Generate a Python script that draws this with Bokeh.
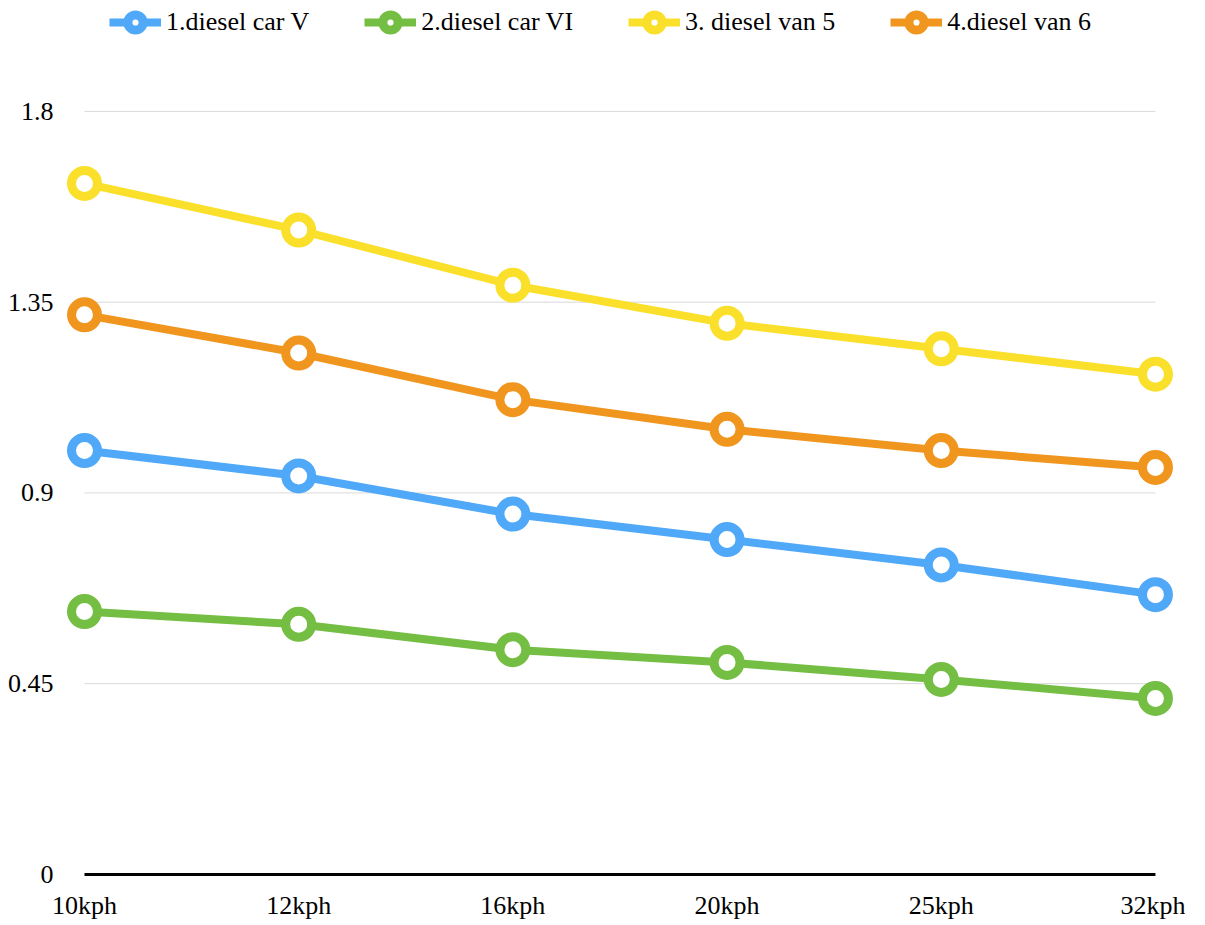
from bokeh.plotting import figure
from bokeh.models import Range1d, FixedTicker, Legend, LegendItem
from bokeh.embed import file_html
from bokeh.resources import INLINE

categories = ["10kph", "12kph", "16kph", "20kph", "25kph", "32kph"]
series_names = ["1.diesel car V", "2.diesel car VI", "3. diesel van 5", "4.diesel van 6"]
car_v = [1.00, 0.94, 0.85, 0.79, 0.73, 0.66]
car_vi = [0.62, 0.59, 0.53, 0.50, 0.46, 0.415]
van_5 = [1.63, 1.52, 1.39, 1.30, 1.24, 1.18]
van_6 = [1.32, 1.23, 1.12, 1.05, 1.00, 0.96]
colors = ["#50A8F8", "#74BE43", "#FAE02B", "#F0961E"]
y_ticks = [0, 0.45, 0.9, 1.35, 1.8]
y_tick_labels = ["0", "0.45", "0.9", "1.35", "1.8"]

FONT = "Liberation Serif"
FS = "26px"

x = list(range(len(categories)))
series = [car_v, car_vi, van_5, van_6]

PXU = 423.9
FH = 882
Y_END = 2.038 + 10 / PXU
Y_START = Y_END - FH / PXU

p = figure(
    frame_width=1114, frame_height=FH,
    x_range=Range1d(-0.098, 5.103), y_range=Range1d(Y_START, Y_END),
    output_backend="svg", toolbar_location=None,
    min_border_left=63, min_border_right=8, min_border_top=0, min_border_bottom=0,
)
p.outline_line_color = None
p.xgrid.visible = False
p.ygrid.visible = False

# axes
p.xaxis.ticker = FixedTicker(ticks=x)
p.xaxis.major_label_overrides = {i: c for i, c in zip(x, categories)}
p.yaxis.ticker = FixedTicker(ticks=y_ticks)
p.yaxis.major_label_overrides = {t: l for t, l in zip(y_ticks, y_tick_labels)}
for ax in (p.xaxis, p.yaxis):
    ax.axis_line_color = None
    ax.major_tick_line_color = None
    ax.minor_tick_line_color = None
    ax.major_label_text_font = FONT
    ax.major_label_text_font_size = FS
    ax.major_label_text_color = "#000000"
p.xaxis.major_label_standoff = 2
p.yaxis.major_label_standoff = 4

# gridlines
p.segment(x0=[x[0]] * (len(y_ticks) - 1), x1=[x[-1]] * (len(y_ticks) - 1),
          y0=y_ticks[1:], y1=y_ticks[1:], line_color="#d9d9d9", line_width=1)
p.segment(x0=[x[0]], x1=[x[-1]], y0=[y_ticks[0]], y1=[y_ticks[0]],
          line_color="#000000", line_width=3)

items = []
for name, vals, col in zip(series_names, series, colors):
    lr = p.line(x, vals, line_color=col, line_width=8)
    sr = p.scatter(x, vals, size=26, line_width=9, line_color=col, fill_color="white")
    items.append(LegendItem(label=name, renderers=[lr, sr]))

legend = Legend(
    items=items, orientation="horizontal",
    location=(46, FH - 38 - 3),
    glyph_width=52, glyph_height=38, label_height=38,
    label_standoff=5, spacing=55, padding=0, margin=0,
    label_text_font=FONT, label_text_font_size=FS, label_text_color="#000000",
    border_line_alpha=0, background_fill_alpha=0,
)
p.add_layout(legend, "center")

open("out.html", "w").write(file_html(p, INLINE))
